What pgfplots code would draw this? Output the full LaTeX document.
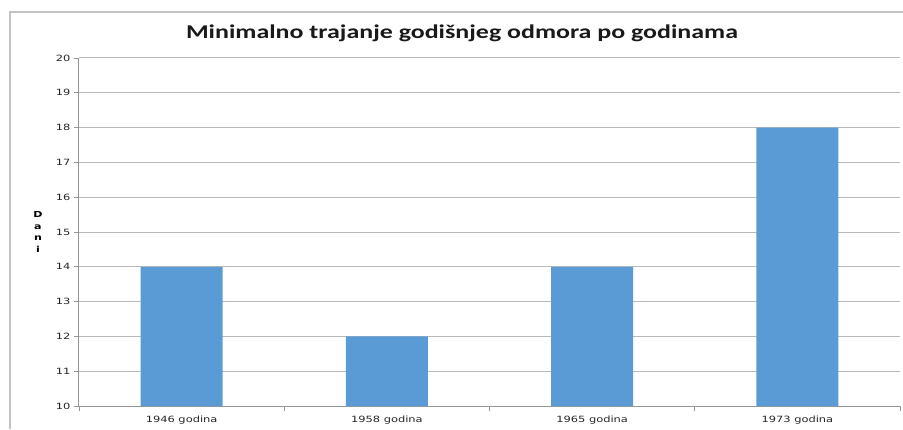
\documentclass[border=0pt]{standalone}
\usepackage{fontspec}
\setmainfont[FakeStretch=1.33]{DejaVu Sans}
\newfontfamily\titlefont[FakeStretch=1.33]{Carlito}
\usepackage{pgfplots}
\pgfplotsset{compat=1.18}
\definecolor{barblue}{HTML}{5B9BD5}
\definecolor{gridgray}{RGB}{185,185,185}
\definecolor{axgray}{RGB}{150,150,150}
\definecolor{framegray}{RGB}{195,195,195}

\begin{document}
\begin{tikzpicture}
\path[use as bounding box] (0,0) rectangle (903pt,429pt);
\draw[framegray, line width=1.5pt] (10pt,0) -- (10pt,417pt) -- (903pt,417pt);
\node[font=\titlefont\bfseries\fontsize{19.5}{22}\selectfont, text=black!90] at (462pt,396pt)
  {Minimalno trajanje godišnjeg odmora po godinama};
\begin{axis}[
  at={(79pt,23pt)}, anchor=south west,
  scale only axis, width=821pt, height=348pt,
  ybar, bar width=0.4,
  xmin=-0.5, xmax=3.5,
  ymin=10, ymax=20, ytick={10,...,20},
  xtick={-0.5,0.5,1.5,2.5,3.5}, xticklabels={,,,,},
  extra x ticks={0,1,2,3},
  extra x tick labels={1946 godina,1958 godina,1965 godina,1973 godina},
  extra x tick style={major tick length=0pt,
    tick label style={yshift=-6pt}},
  axis x line*=bottom, axis y line*=left,
  axis line style={axgray, line width=1pt},
  tick align=outside, major tick length=5pt,
  tick style={axgray, line width=0.8pt},
  ymajorgrids, grid style={gridgray, line width=1pt},
  tick label style={font=\fontsize{8.6}{10}\selectfont, text=black!85},
  /pgf/number format/assume math mode=true,
  ylabel={D\\a\\n\\i},
  ylabel style={rotate=-90, align=center, anchor=center,
    font=\bfseries\fontsize{8.3}{11.5}\selectfont,
    at={(axis description cs:-0.05,0.5)}},
]
\addplot[fill=barblue, draw=none] coordinates {(0,14) (1,12) (2,14) (3,18)};
\end{axis}
\end{tikzpicture}
\end{document}
